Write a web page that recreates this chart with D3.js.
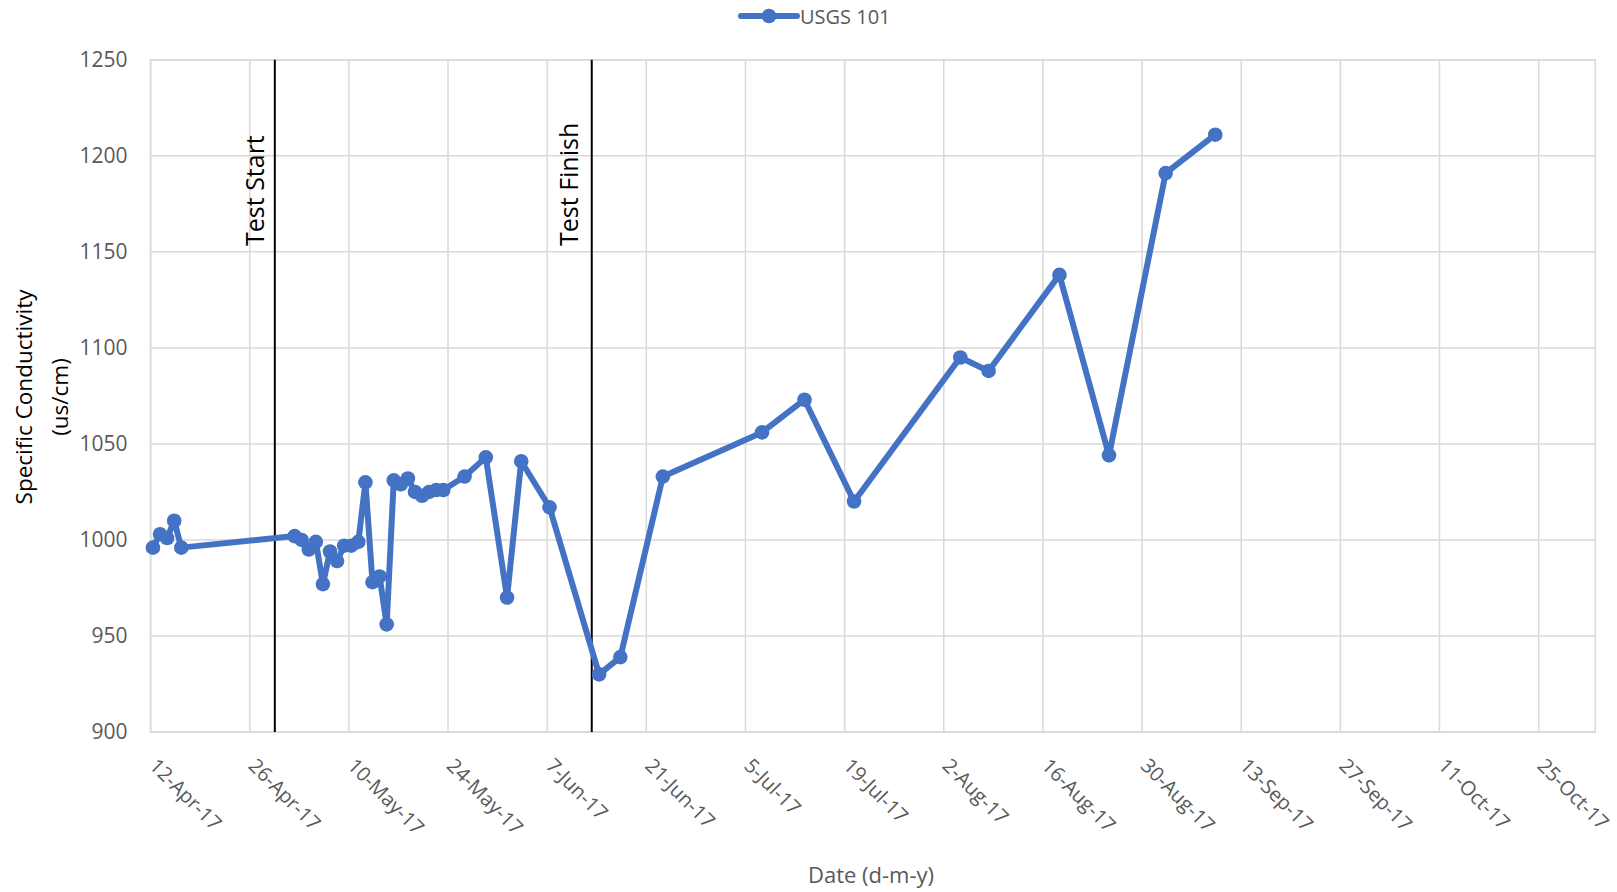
<!DOCTYPE html>
<html>
<head>
<meta charset="utf-8">
<script src="https://cdn.jsdelivr.net/npm/d3@7"></script>
<style>
  html, body { margin: 0; padding: 0; background: #fff; }
  svg { display: block; font-family: "Open Sans", "Noto Sans", sans-serif; }
</style>
</head>
<body>
<svg id="chart" width="1617" height="892"></svg>
<script>
// Sample dates (morning readings) and specific conductivity for well USGS 101
const sampleDates = [
  "2017-04-12","2017-04-13","2017-04-14","2017-04-15","2017-04-16",
  "2017-05-02","2017-05-03","2017-05-04","2017-05-05","2017-05-06","2017-05-07",
  "2017-05-08","2017-05-09","2017-05-10","2017-05-11","2017-05-12","2017-05-13",
  "2017-05-14","2017-05-15","2017-05-16","2017-05-17","2017-05-18","2017-05-19",
  "2017-05-20","2017-05-21","2017-05-22","2017-05-23","2017-05-26","2017-05-29",
  "2017-06-01","2017-06-03","2017-06-07","2017-06-14","2017-06-17","2017-06-23",
  "2017-07-07","2017-07-13","2017-07-20","2017-08-04","2017-08-08","2017-08-18",
  "2017-08-25","2017-09-02","2017-09-09"
];
const sampleTime = "T08:00:00Z";
const conductivity = [
  996, 1003, 1001, 1010, 996,
  1002, 1000, 995, 999, 977, 994,
  989, 997, 997, 999, 1030, 978,
  981, 956, 1031, 1029, 1032, 1025,
  1023, 1025, 1026, 1026, 1033, 1043,
  970, 1041, 1017, 930, 939, 1033,
  1056, 1073, 1020, 1095, 1088, 1138,
  1044, 1191, 1211
];
const seriesName = "USGS 101";

// Axis ranges and ticks
const dateDomain = ["2017-04-12", "2017-11-02"];
const dateTicks = [
  "2017-04-12","2017-04-26","2017-05-10","2017-05-24","2017-06-07","2017-06-21",
  "2017-07-05","2017-07-19","2017-08-02","2017-08-16","2017-08-30","2017-09-13",
  "2017-09-27","2017-10-11","2017-10-25"
];
const valueDomain = [900, 1250];
const valueTicks = [900, 950, 1000, 1050, 1100, 1150, 1200, 1250];

// Test period markers
const testMarkers = [
  { label: "Test Start",  date: "2017-04-29T13:00:00Z", textGap: 11 },
  { label: "Test Finish", date: "2017-06-13T07:00:00Z", textGap: 14 }
];

const parse = s => new Date(s.length === 10 ? s + "T00:00:00Z" : s);
const data = sampleDates.map((d, i) => ({ date: parse(d + sampleTime), value: conductivity[i] }));

const plot = { left: 150.6, right: 1595.3, top: 59.8, bottom: 732 };
const blue = "#4472C4", gridColor = "#d9d9d9", textColor = "#595959";

const svg = d3.select("#chart");

const x = d3.scaleUtc().domain(dateDomain.map(parse)).range([plot.left, plot.right]);
const y = d3.scaleLinear().domain(valueDomain).range([plot.bottom, plot.top]);

// Gridlines
const grid = svg.append("g");
grid.selectAll("line.h").data(valueTicks).join("line")
  .attr("x1", plot.left).attr("x2", plot.right)
  .attr("y1", d => y(d)).attr("y2", d => y(d))
  .attr("stroke", gridColor).attr("stroke-width", 1.5);
grid.selectAll("line.v").data(dateTicks.map(parse)).join("line")
  .attr("x1", d => x(d)).attr("x2", d => x(d))
  .attr("y1", plot.top).attr("y2", plot.bottom)
  .attr("stroke", gridColor).attr("stroke-width", 1.5);
grid.append("rect")
  .attr("x", plot.left).attr("y", plot.top)
  .attr("width", plot.right - plot.left).attr("height", plot.bottom - plot.top)
  .attr("fill", "none").attr("stroke", gridColor).attr("stroke-width", 1.5);

// Y axis labels
const yAxis = svg.append("g")
  .attr("transform", `translate(${plot.left},0)`)
  .call(d3.axisLeft(y).tickValues(valueTicks).tickFormat(d3.format("d")).tickSize(0).tickPadding(23));
yAxis.select(".domain").remove();
yAxis.selectAll("text")
  .attr("fill", textColor).attr("font-size", 21)
  .attr("font-family", "'Open Sans', sans-serif");

// X axis labels, rotated 45 degrees
const fmt = d3.utcFormat("%-d-%b-%y");
const xAxis = svg.append("g")
  .attr("transform", `translate(0,${plot.bottom})`)
  .call(d3.axisBottom(x).tickValues(dateTicks.map(parse)).tickFormat(fmt).tickSize(0));
xAxis.select(".domain").remove();
xAxis.selectAll("text")
  .attr("fill", textColor).attr("font-size", 20)
  .attr("font-family", "'Open Sans', sans-serif")
  .attr("text-anchor", "start")
  .attr("x", 0).attr("y", 0).attr("dy", "0.35em")
  .attr("transform", "translate(2,30) rotate(45)");

// Axis titles
svg.append("text")
  .attr("transform", "translate(23,397) rotate(-90)")
  .attr("text-anchor", "middle").attr("dominant-baseline", "central")
  .attr("fill", "#000").attr("font-size", 22.5)
  .text("Specific Conductivity");
svg.append("text")
  .attr("transform", "translate(59,397) rotate(-90)")
  .attr("text-anchor", "middle").attr("dominant-baseline", "central")
  .attr("fill", "#000").attr("font-size", 22.5)
  .text("(us/cm)");
svg.append("text")
  .attr("x", 871).attr("y", 874)
  .attr("text-anchor", "middle").attr("dominant-baseline", "central")
  .attr("fill", textColor).attr("font-size", 22)
  .text("Date (d-m-y)");

// Test period vertical lines and labels
const markers = svg.append("g");
markers.selectAll("line").data(testMarkers).join("line")
  .attr("x1", d => x(parse(d.date))).attr("x2", d => x(parse(d.date)))
  .attr("y1", plot.top).attr("y2", plot.bottom)
  .attr("stroke", "#000").attr("stroke-width", 2);
markers.selectAll("text").data(testMarkers).join("text")
  .attr("transform", d => `translate(${x(parse(d.date)) - d.textGap},246) rotate(-90)`)
  .attr("text-anchor", "start")
  .attr("fill", "#000").attr("font-size", 25)
  .text(d => d.label);

// Series line and markers
const line = d3.line().x(d => x(d.date)).y(d => y(d.value));
svg.append("path")
  .datum(data)
  .attr("d", line)
  .attr("fill", "none").attr("stroke", blue)
  .attr("stroke-width", 6).attr("stroke-linejoin", "round").attr("stroke-linecap", "round");
svg.append("g").selectAll("circle").data(data).join("circle")
  .attr("cx", d => x(d.date)).attr("cy", d => y(d.value))
  .attr("r", 7.3).attr("fill", blue);

// Legend
const legend = svg.append("g").attr("transform", "translate(741,16)");
legend.append("line")
  .attr("x1", 0).attr("x2", 56).attr("y1", 0).attr("y2", 0)
  .attr("stroke", blue).attr("stroke-width", 6).attr("stroke-linecap", "round");
legend.append("circle").attr("cx", 28).attr("cy", 0).attr("r", 7.3).attr("fill", blue);
legend.append("text")
  .attr("x", 59).attr("y", 0).attr("dominant-baseline", "central")
  .attr("fill", textColor).attr("font-size", 20)
  .text(seriesName);
</script>
</body>
</html>
